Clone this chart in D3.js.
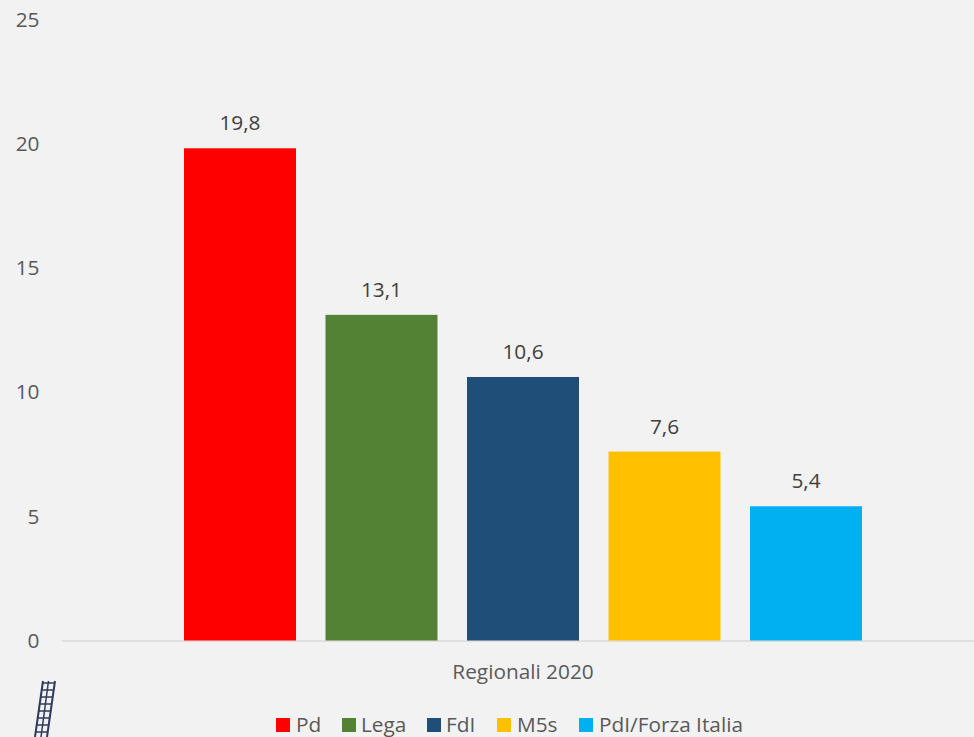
<!DOCTYPE html>
<html><head><meta charset="utf-8">
<script src="https://cdnjs.cloudflare.com/ajax/libs/d3/7.8.5/d3.min.js"></script>
<style>html,body{margin:0;padding:0;background:#f2f2f2}svg{display:block}text{font-family:"Open Sans",sans-serif;}</style>
</head><body><svg id="c" width="974" height="737"></svg>
<script>
const parties = ["Pd","Lega","FdI","M5s","PdI/Forza Italia"];
const values = [19.8,13.1,10.6,7.6,5.4];
const labels = ["19,8","13,1","10,6","7,6","5,4"];
const colors = ["#ff0000","#548235","#1f4e79","#ffc000","#00b0f0"];
const yTicks = [0,5,10,15,20,25];
const category = "Regionali 2020";

const svg = d3.select("#c");
const fs = 20.8;
const y = d3.scaleLinear().domain([0,25]).range([640.5,19]);
const x = d3.scaleBand().domain(parties).range([184,862]).paddingInner(0.2085);

// axis
const yAxis = d3.axisLeft(y).tickValues(yTicks).tickSize(0).tickPadding(0);
const gy = svg.append("g").attr("transform","translate(39.5,0)").call(yAxis);
gy.select(".domain").remove();
gy.selectAll("text").attr("font-size",fs).attr("fill","#595959").attr("font-family",'"Open Sans",sans-serif').attr("dy","0.34em");

svg.append("line").attr("x1",62).attr("x2",974).attr("y1",y(0)+0.5).attr("y2",y(0)+0.5).attr("stroke","#d9d9d9").attr("stroke-width",1.5);

svg.selectAll("rect.bar").data(parties).join("rect").attr("class","bar")
  .attr("x",d=>x(d)).attr("width",x.bandwidth())
  .attr("y",(d,i)=>y(values[i])).attr("height",(d,i)=>y(0)-y(values[i]))
  .attr("fill",(d,i)=>colors[i]);

svg.selectAll("text.lab").data(parties).join("text").attr("class","lab")
  .attr("x",d=>x(d)+x.bandwidth()/2).attr("y",(d,i)=>y(values[i])-18)
  .attr("text-anchor","middle").attr("font-size",fs).attr("fill","#404040")
  .text((d,i)=>labels[i]);

svg.append("text").attr("x",523).attr("y",679).attr("text-anchor","middle")
  .attr("font-size",fs).attr("fill","#595959").text(category);

// legend
const legendX = [276,342,427,497,579];
const lg = svg.selectAll("g.lg").data(parties).join("g").attr("class","lg")
  .attr("transform",(d,i)=>`translate(${legendX[i]},718)`);
lg.append("rect").attr("width",14).attr("height",14).attr("fill",(d,i)=>colors[i]);
lg.append("text").attr("x",(d,i)=>i==1||i==2?19:20).attr("y",13.5).attr("font-size",fs).attr("fill","#595959").text(d=>d);

// small ladder artefact at bottom-left
const lad = svg.append("g").attr("stroke","#2f3a5c").attr("fill","none");
lad.append("line").attr("x1",43).attr("y1",681).attr("x2",35).attr("y2",737).attr("stroke-width",2);
lad.append("line").attr("x1",55).attr("y1",681).attr("x2",47).attr("y2",737).attr("stroke-width",2);
lad.append("line").attr("x1",48.5).attr("y1",681).attr("x2",41).attr("y2",737).attr("stroke-width",1.5);
d3.range(683,737,7).forEach(v=>{
  const t=(v-681)/56;
  lad.append("line").attr("x1",43-8*t).attr("x2",55-8*t).attr("y1",v).attr("y2",v).attr("stroke-width",1.5);
});
</script></body></html>
